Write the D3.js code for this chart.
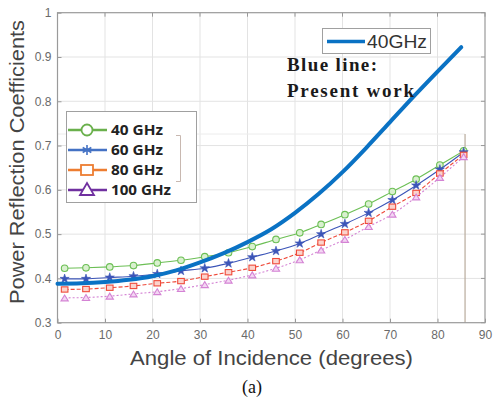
<!DOCTYPE html>
<html>
<head>
<meta charset="utf-8">
<script src="https://cdn.jsdelivr.net/npm/d3@7/dist/d3.min.js"></script>
<style>
  html, body { margin: 0; padding: 0; background: #fff; }
  svg { display: block; }
</style>
</head>
<body>
<svg id="chart" width="493" height="402"></svg>
<script>
// Power reflection coefficient vs. angle of incidence
const markerAngles = [1.5, 6, 11, 16, 21, 26, 31, 36, 41, 46, 51, 55.5, 60.5, 65.5, 70.5, 75.5, 80.5, 85.5];
const ghz40  = [0.423, 0.424, 0.426, 0.429, 0.435, 0.441, 0.449, 0.458, 0.472, 0.488, 0.503, 0.522, 0.544, 0.568, 0.596, 0.624, 0.656, 0.688];
const ghz60  = [0.399, 0.399, 0.402, 0.405, 0.410, 0.417, 0.423, 0.434, 0.448, 0.462, 0.479, 0.500, 0.523, 0.548, 0.577, 0.610, 0.646, 0.685];
const ghz80  = [0.375, 0.376, 0.379, 0.383, 0.389, 0.394, 0.404, 0.414, 0.424, 0.439, 0.458, 0.481, 0.504, 0.530, 0.562, 0.593, 0.637, 0.679];
const ghz100 = [0.356, 0.357, 0.360, 0.365, 0.370, 0.377, 0.386, 0.396, 0.408, 0.423, 0.442, 0.464, 0.488, 0.517, 0.545, 0.584, 0.628, 0.675];

const presentAngles = [0, 5, 10, 15, 20, 25, 30, 35, 40, 45, 50, 55, 60, 65, 70, 75, 80, 85];
const presentWork   = [0.388, 0.389, 0.392, 0.397, 0.405, 0.418, 0.436, 0.457, 0.482, 0.511, 0.548, 0.591, 0.640, 0.695, 0.753, 0.811, 0.867, 0.922];

const xTicks = [0, 10, 20, 30, 40, 50, 60, 70, 80, 90];
const yTicks = [0.3, 0.4, 0.5, 0.6, 0.7, 0.8, 0.9, 1];
const seriesNames = ["40 GHz", "60 GHz", "80 GHz", "100 GHz"];

const svg = d3.select("#chart");
const L = 57.5, R = 485, T = 12.7, B = 322.7;

const x = d3.scaleLinear().domain([0, 90]).range([L, R]);
const y = d3.scaleLinear().domain([0.3, 1]).range([B, T]);

// grid
const grid = svg.append("g");
grid.selectAll("line.gx").data(xTicks.slice(1, -1)).join("line")
  .attr("x1", d => x(d)).attr("x2", d => x(d)).attr("y1", T).attr("y2", B)
  .attr("stroke", "#e3e3e3").attr("stroke-width", 1);
grid.selectAll("line.gy").data(yTicks.slice(1, -1)).join("line")
  .attr("x1", L).attr("x2", R).attr("y1", d => y(d)).attr("y2", d => y(d))
  .attr("stroke", "#e3e3e3").attr("stroke-width", 1);

// inner frame of the measured-data panel
grid.append("line").attr("x1", L).attr("x2", x(85.8)).attr("y1", 134).attr("y2", 134)
  .attr("stroke", "#ececec").attr("stroke-width", 1);
grid.append("line").attr("x1", x(85.8)).attr("x2", x(85.8)).attr("y1", 134).attr("y2", B)
  .attr("stroke", "#b8ab9c").attr("stroke-width", 1.2);

// axes with inward ticks
const xAxis = d3.axisBottom(x).tickValues(xTicks).tickSize(-4).tickPadding(8).tickFormat(d3.format("d"));
const yAxis = d3.axisLeft(y).tickValues(yTicks).tickSize(-4).tickPadding(6).tickFormat(d => d === 1 ? "1" : d3.format(".1f")(d));
const gx = svg.append("g").attr("transform", `translate(0,${B})`).call(xAxis);
const gy = svg.append("g").attr("transform", `translate(${L},0)`).call(yAxis);
[gx, gy].forEach(g => {
  g.select(".domain").remove();
  g.selectAll(".tick line").attr("stroke", "#999");
  g.selectAll(".tick text").attr("fill", "#6a6a6a").attr("font-size", 12)
    .attr("font-family", "Liberation Sans, Arial, sans-serif");
});
// right-side ticks
svg.append("g").selectAll("line").data(yTicks).join("line")
  .attr("x1", R).attr("x2", R - 4).attr("y1", d => y(d)).attr("y2", d => y(d)).attr("stroke", "#999");
svg.append("g").selectAll("line").data(xTicks).join("line")
  .attr("x1", d => x(d)).attr("x2", d => x(d)).attr("y1", T).attr("y2", T + 4).attr("stroke", "#999");

svg.append("rect").attr("x", L).attr("y", T).attr("width", R - L).attr("height", B - T)
  .attr("fill", "none").attr("stroke", "#9a9a9a").attr("stroke-width", 1.2);

// measured series
const styles = [
  { data: ghz40,  color: "#6cbf55", dash: null,  marker: "circle" },
  { data: ghz60,  color: "#3c55b8", dash: null,  marker: "star" },
  { data: ghz80,  color: "#ef4a3a", dash: "4,2", marker: "square" },
  { data: ghz100, color: "#d483d4", dash: "2,2", marker: "triangle" }
];
const thinLine = d3.line().x(d => x(d[0])).y(d => y(d[1])).curve(d3.curveMonotoneX);

function drawMarker(g, type, cx, cy, color, s) {
  if (type === "circle") {
    g.append("circle").attr("cx", cx).attr("cy", cy).attr("r", s)
      .attr("fill", "#d9f0cf").attr("stroke", color).attr("stroke-width", 1.1);
  } else if (type === "star") {
    g.append("path").attr("d", d3.symbol(d3.symbolStar, s * s * 2.4)())
      .attr("transform", `translate(${cx},${cy})`).attr("fill", color).attr("stroke", color).attr("stroke-width", 0.6);
  } else if (type === "square") {
    g.append("rect").attr("x", cx - s).attr("y", cy - s * 0.8).attr("width", 2 * s).attr("height", 1.6 * s)
      .attr("fill", "#fbd3cc").attr("stroke", color).attr("stroke-width", 1.1);
  } else {
    const h = s * 1.8;
    g.append("path").attr("d", `M${cx - s * 1.1},${cy + h / 2}L${cx + s * 1.1},${cy + h / 2}L${cx},${cy - h / 2}Z`)
      .attr("fill", "#f3d6f3").attr("stroke", color).attr("stroke-width", 1.1);
  }
}

const series = svg.append("g");
styles.forEach(st => {
  const pts = markerAngles.map((a, i) => [a, st.data[i]]);
  series.append("path").datum(pts).attr("d", thinLine)
    .attr("fill", "none").attr("stroke", st.color).attr("stroke-width", 1.1)
    .attr("stroke-dasharray", st.dash);
  pts.forEach(p => drawMarker(series, st.marker, x(p[0]), y(p[1]), st.color, 3.3));
});

// present work curve
const thick = d3.line().x(d => x(d[0])).y(d => y(d[1])).curve(d3.curveMonotoneX);
svg.append("path").datum(presentAngles.map((a, i) => [a, presentWork[i]]))
  .attr("d", thick).attr("fill", "none").attr("stroke", "#0a72c4").attr("stroke-width", 4)
  .attr("stroke-linecap", "round");

// legend of measured series
const lg = svg.append("g");
lg.append("rect").attr("x", 66.5).attr("y", 111.5).attr("width", 130).attr("height", 91)
  .attr("fill", "#fff").attr("stroke", "#a0a0a0").attr("stroke-width", 1);
const legColors = ["#6ab04c", "#4472c4", "#ed7d31", "#7030a0"];
const legMarkers = ["circle", "star", "square", "triangle"];
const legWidths = [52, 52, 52, 60];
seriesNames.forEach((name, i) => {
  const cy = 130 + i * 20;
  lg.append("line").attr("x1", 68).attr("x2", 107).attr("y1", cy).attr("y2", cy)
    .attr("stroke", legColors[i]).attr("stroke-width", 2.4);
  const cx = 87;
  if (legMarkers[i] === "circle") {
    lg.append("circle").attr("cx", cx).attr("cy", cy).attr("r", 5.5)
      .attr("fill", "#fff").attr("stroke", legColors[i]).attr("stroke-width", 1.8);
  } else if (legMarkers[i] === "star") {
    lg.append("path").attr("d", d3.symbol(d3.symbolAsterisk, 70)()).attr("transform", `translate(${cx},${cy})`)
      .attr("fill", "none").attr("stroke", legColors[i]).attr("stroke-width", 1.6);
  } else if (legMarkers[i] === "square") {
    lg.append("rect").attr("x", cx - 6).attr("y", cy - 5).attr("width", 12).attr("height", 10)
      .attr("fill", "#fff").attr("stroke", legColors[i]).attr("stroke-width", 1.8);
  } else {
    lg.append("path").attr("d", `M${cx - 7},${cy + 5}L${cx + 7},${cy + 5}L${cx},${cy - 7}Z`)
      .attr("fill", "#fff").attr("stroke", legColors[i]).attr("stroke-width", 1.8);
  }
  lg.append("text").attr("x", 111).attr("y", cy + 5).text(name)
    .attr("font-family", "Open Sans, DejaVu Sans, sans-serif").attr("font-weight", "bold")
    .attr("font-size", 14).attr("fill", "#222")
    .attr("textLength", legWidths[i]).attr("lengthAdjust", "spacingAndGlyphs");
});
lg.append("path").attr("d", "M176,135.5H180.5V181.5H176").attr("fill", "none").attr("stroke", "#c8b8b0").attr("stroke-width", 1);

// legend of present work
const lg2 = svg.append("g");
lg2.append("rect").attr("x", 322.5).attr("y", 28.5).attr("width", 108).attr("height", 25)
  .attr("fill", "#fff").attr("stroke", "#a0a0a0").attr("stroke-width", 1);
lg2.append("line").attr("x1", 327).attr("x2", 365).attr("y1", 41.5).attr("y2", 41.5)
  .attr("stroke", "#0a72c4").attr("stroke-width", 3.5);
lg2.append("text").attr("x", 367).attr("y", 48).text("40GHz")
  .attr("font-family", "Liberation Sans, Arial, sans-serif").attr("font-size", 18).attr("fill", "#333")
  .attr("textLength", 60).attr("lengthAdjust", "spacingAndGlyphs");

// annotation
const note = svg.append("g").attr("font-family", "Liberation Serif, Times New Roman, serif")
  .attr("font-weight", "bold").attr("font-size", 19).attr("fill", "#1a1a1a")
  .attr("lengthAdjust", "spacingAndGlyphs");
note.append("text").attr("x", 287).attr("y", 71).attr("textLength", 90).text("Blue line:");
note.append("text").attr("x", 287).attr("y", 97).attr("textLength", 127).text("Present work");

// axis titles
svg.append("text").attr("x", 130).attr("y", 365)
  .attr("font-family", "Liberation Sans, Arial, sans-serif").attr("font-size", 19.5).attr("fill", "#444")
  .attr("textLength", 283).attr("lengthAdjust", "spacingAndGlyphs")
  .text("Angle of Incidence (degrees)");
svg.append("text").attr("transform", "translate(24,304) rotate(-90)")
  .attr("font-family", "Liberation Sans, Arial, sans-serif").attr("font-size", 19.5).attr("fill", "#444")
  .attr("textLength", 284).attr("lengthAdjust", "spacingAndGlyphs")
  .text("Power Reflection Coefficients");
svg.append("text").attr("x", 252).attr("y", 393).attr("text-anchor", "middle")
  .attr("font-family", "Liberation Serif, Times New Roman, serif").attr("font-size", 18).attr("fill", "#111")
  .text("(a)");
</script>
</body>
</html>
